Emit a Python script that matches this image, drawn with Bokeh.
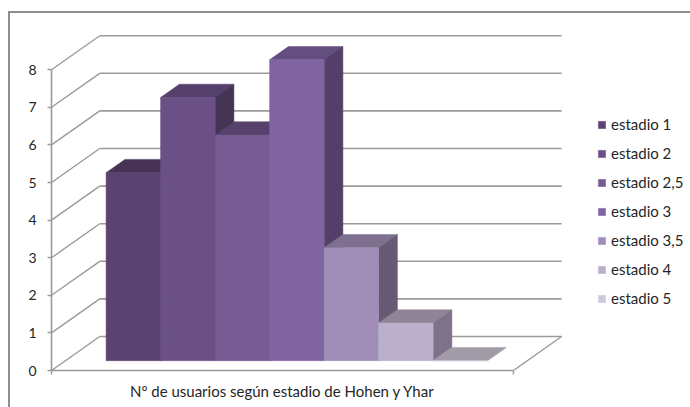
from bokeh.embed import file_html
from bokeh.resources import INLINE
from bokeh.plotting import figure
from bokeh.models import Range1d, FixedTicker, Legend, LegendItem, LinearAxis

categories = ["estadio 1", "estadio 2", "estadio 2,5", "estadio 3", "estadio 3,5", "estadio 4", "estadio 5"]
values = [5, 7, 6, 8, 3, 1, 0]
y_ticks = [0, 1, 2, 3, 4, 5, 6, 7, 8]
axis_title = "Nº de usuarios según estadio de Hohen y Yhar"
front_colors = ["#5A4370", "#6B5085", "#755B91", "#8064A2", "#A08EB8", "#BBB0CB", "#CFC8DC"]
top_colors = ["#463356", "#54406A", "#55416B", "#644D7F", "#7F7090", "#8F8599", "#A09BA6"]
side_colors = ["#3A2B49", "#443453", "#46355A", "#533F69", "#665A75", "#7E7189", "#8A8494"]

GRID = "#9A9A9A"
TEXT = "#262626"
FONT = "Lato"
X_LO, X_HI = -0.745, 7.73          # category axis extent, in bar widths
DEPTH_X, DEPTH_Y = 0.885, 0.904    # oblique shift of the full floor depth
BAR_Z0, BAR_DZ = 0.29, 0.39        # bar position within the floor depth


def shift(x, y, z):
    return x + z * DEPTH_X, y + z * DEPTH_Y


p = figure(width=690, height=407, output_backend="svg", toolbar_location=None,
           x_range=Range1d(X_LO, X_LO + 639 / 54.5), y_range=Range1d(0, 370 / 37.6),
           min_border_left=51, min_border_right=0, min_border_top=0, min_border_bottom=37,
           background_fill_alpha=0, border_fill_alpha=0, outline_line_alpha=0)
p.grid.visible = False

# chart frame: only its left and top edges lie inside the picture
p.styles = {"background":
            "linear-gradient(#8F8F8F,#8F8F8F) 8px 11px/682px 2px no-repeat,"
            "linear-gradient(#8F8F8F,#8F8F8F) 8px 11px/2px 396px no-repeat"}

# walls and floor
bx0, _ = shift(X_LO, 0, 1)
bx1, _ = shift(X_HI, 0, 1)
for v in y_ticks:
    _, by = shift(0, v, 1)
    p.line([bx0, bx1], [by, by], line_color=GRID, line_width=1.6)
    p.line([X_LO, bx0], [v, by], line_color=GRID, line_width=1.4)
p.line([X_HI, bx1], [0, shift(0, 0, 1)[1]], line_color=GRID, line_width=1.4)

# bars, painted left to right
fronts = []
for i, (v, fc, tc, sc) in enumerate(zip(values, front_colors, top_colors, side_colors)):
    xa, ya = shift(i, 0, BAR_Z0)
    xb = xa + 1
    yt = ya + v
    dx, dy = BAR_DZ * DEPTH_X, BAR_DZ * DEPTH_Y
    p.patch([xa, xb, xb + dx, xa + dx], [yt, yt, yt + dy, yt + dy], fill_color=tc, line_color=tc, line_width=0.5)
    if v > 0:
        p.patch([xb, xb + dx, xb + dx, xb], [ya, ya + dy, yt + dy, yt], fill_color=sc, line_color=sc, line_width=0.5)
    r = p.quad(left=xa, right=xb, bottom=ya, top=yt, fill_color=fc, line_color=fc, line_width=0.5)
    fronts.append(r)

# axes
ya = p.yaxis[0]
ya.bounds = (0, 8)
ya.ticker = FixedTicker(ticks=y_ticks)
ya.minor_tick_line_alpha = 0
ya.major_tick_in = 0
ya.major_tick_out = 4
ya.axis_line_color = GRID
ya.major_tick_line_color = GRID
ya.axis_line_width = 1.6
ya.major_tick_line_width = 1.4
ya.major_label_standoff = 11
ya.major_label_text_font = FONT
ya.major_label_text_font_size = "14px"
ya.major_label_text_color = TEXT

xa_ = p.xaxis[0]
xa_.bounds = (X_LO, X_HI)
xa_.ticker = FixedTicker(ticks=[X_LO, X_HI])
xa_.major_label_overrides = {X_LO: "", X_HI: ""}
xa_.major_label_text_font_size = "1px"
xa_.major_label_standoff = 0
xa_.minor_tick_line_alpha = 0
xa_.major_tick_in = 0
xa_.major_tick_out = 4
xa_.axis_line_color = GRID
xa_.major_tick_line_color = GRID
xa_.axis_line_width = 1.6
xa_.major_tick_line_width = 1.4

# the category caption is the single label of a second, line-less axis below the first
mid = (X_LO + X_HI) / 2
caption = LinearAxis(ticker=FixedTicker(ticks=[mid]), major_label_overrides={mid: axis_title},
                     axis_line_alpha=0, major_tick_line_alpha=0, minor_tick_line_alpha=0,
                     major_tick_in=0, major_tick_out=0, major_label_standoff=7,
                     major_label_text_font=FONT, major_label_text_font_size="15px",
                     major_label_text_color=TEXT)
p.add_layout(caption, "below")

legend = Legend(items=[LegendItem(label=c, renderers=[r]) for c, r in zip(categories, fronts)],
                location=(546, 62), padding=0, margin=0, spacing=9,
                glyph_width=9, glyph_height=9, label_height=20, label_standoff=5,
                background_fill_alpha=0, border_line_alpha=0,
                label_text_font=FONT, label_text_font_size="15px", label_text_color=TEXT)
p.add_layout(legend)

open("out.html", "w").write(file_html(p, INLINE))
